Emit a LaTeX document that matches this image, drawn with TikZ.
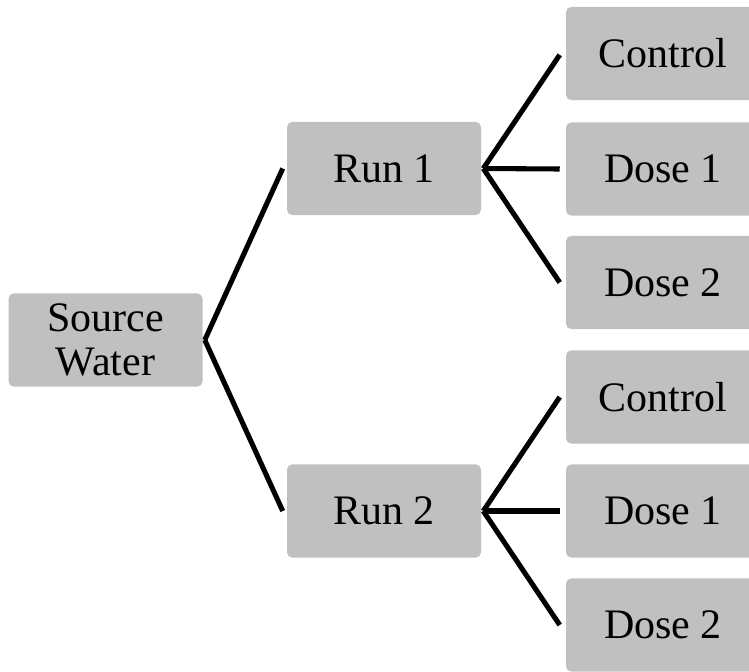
\documentclass[tikz,border=0pt]{standalone}
\usepackage{fontspec}
\setmainfont{Liberation Serif}
\definecolor{boxgray}{RGB}{192,192,192}
\begin{document}
\begin{tikzpicture}[x=0.75pt,y=-0.75pt,
  box/.style={fill=boxgray,draw=none,rounded corners=4pt,minimum width=145.5pt,minimum height=70pt,inner sep=0pt,align=center,font=\fontsize{31.5}{32.5}\selectfont},
  link/.style={line width=3.8pt,draw=black}]
\useasboundingbox (0,0) rectangle (749,671);
\clip (0,0) rectangle (749,671);
\node[box] (src) at (105.5,340) {Source\\Water};
\node[box] (r1) at (384,168.5) {Run 1};
\node[box] (r2) at (384,511) {Run 2};
\node[box] (c1) at (663,53.5) {Control};
\node[box] (d11) at (663,169) {Dose 1};
\node[box] (d12) at (663,282.5) {Dose 2};
\node[box] (c2) at (663,397) {Control};
\node[box] (d21) at (663,511) {Dose 1};
\node[box] (d22) at (663,625) {Dose 2};
\coordinate (s0) at ([xshift=1.5pt]src.east);
\draw[link] (s0) -- ([xshift=-3pt]r1.west);
\draw[link] (s0) -- ([xshift=-3pt]r2.west);
\coordinate (a0) at ([xshift=1.5pt]r1.east);
\draw[link] (a0) -- ([xshift=-4.5pt,yshift=-1pt]c1.west);
\draw[link] (a0) -- ([xshift=-4.5pt]d11.west);
\draw[link] (a0) -- ([xshift=-4.5pt]d12.west);
\coordinate (b0) at ([xshift=1.5pt]r2.east);
\draw[link] (b0) -- ([xshift=-4.5pt]c2.west);
\draw[link] (b0) -- ([xshift=-4.5pt]d21.west);
\draw[link] (b0) -- ([xshift=-4.5pt]d22.west);
\end{tikzpicture}
\end{document}
